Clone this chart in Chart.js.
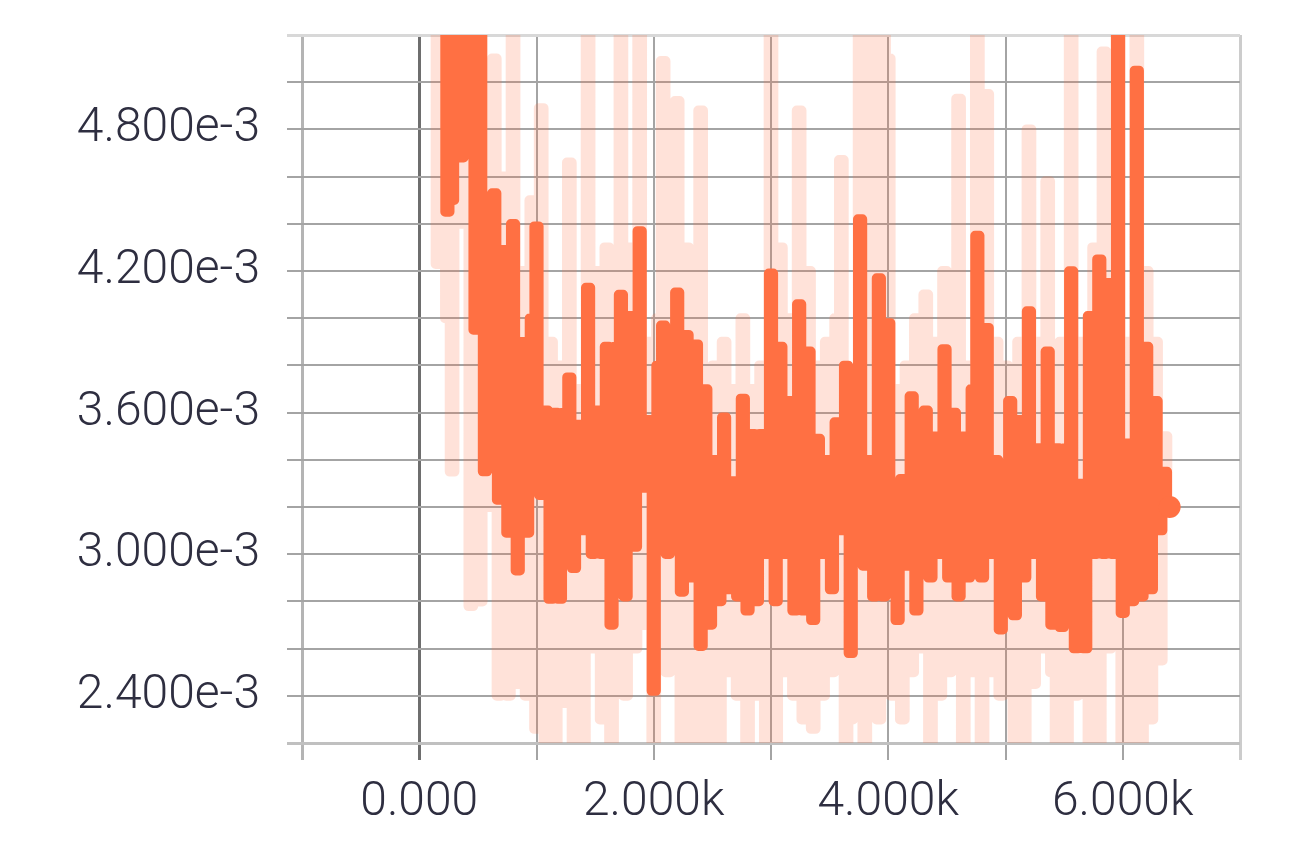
<!DOCTYPE html>
<html>
<head>
<meta charset="utf-8">
<script src="https://cdn.jsdelivr.net/npm/chart.js@4.4.1/dist/chart.umd.min.js"></script>
<style>
  body { margin: 0; background: #fff; }
  canvas { display: block; }
</style>
</head>
<body>
<canvas id="myChart" width="1308" height="848"></canvas>
<script>
// training steps
var steps = [
  120,160,200,240,280,320,360,400,440,480,
  520,560,600,640,680,720,760,800,840,880,
  920,960,1000,1040,1080,1120,1160,1200,1240,1280,
  1320,1360,1400,1440,1480,1520,1560,1600,1640,1680,
  1720,1760,1800,1840,1880,1920,1960,2000,2040,2080,
  2120,2160,2200,2240,2280,2320,2360,2400,2440,2480,
  2520,2560,2600,2640,2680,2720,2760,2800,2840,2880,
  2920,2960,3000,3040,3080,3120,3160,3200,3240,3280,
  3320,3360,3400,3440,3480,3520,3560,3600,3640,3680,
  3720,3760,3800,3840,3880,3920,3960,4000,4040,4080,
  4120,4160,4200,4240,4280,4320,4360,4400,4440,4480,
  4520,4560,4600,4640,4680,4720,4760,4800,4840,4880,
  4920,4960,5000,5040,5080,5120,5160,5200,5240,5280,
  5320,5360,5400,5440,5480,5520,5560,5600,5640,5680,
  5720,5760,5800,5840,5880,5920,5960,6000,6040,6080,
  6120,6160,6200,6240,6280,6320,6360,6400
]

// smoothed loss, in units of 1e-3
var smoothedMilli = [null, null,
  5.5, 4.45, 4.5, 5.5, 4.68, 5.5, 5.5, 3.95, 5.3, 3.35,
  4.0, 4.53, 3.23, 4.29, 3.09, 4.4, 2.93, 3.9, 3.09, 4.0,
  4.39, 3.25, 3.61, 2.81, 3.6, 2.81, 3.6, 3.75, 2.94, 3.55,
  3.1, 4.13, 3.0, 3.61, 3.0, 3.88, 2.7, 3.88, 4.1, 2.82,
  4.01, 3.03, 4.37, 3.28, 3.57, 2.42, 3.8, 3.97, 3.0, 3.85,
  4.11, 2.84, 3.93, 2.9, 3.89, 2.61, 3.7, 2.7, 3.4, 2.8,
  3.58, 2.85, 3.31, 2.82, 3.66, 2.76, 3.51, 2.8, 3.51, 3.0,
  4.19, 2.8, 3.88, 3.0, 3.65, 2.76, 4.06, 2.76, 3.86, 2.72,
  3.49, 3.0, 3.4, 2.85, 3.56, 3.1, 3.8, 2.58, 3.41, 4.42,
  2.95, 3.4, 2.82, 4.17, 2.82, 3.98, 3.3, 2.72, 3.32, 2.95,
  3.67, 2.76, 3.55, 3.61, 2.9, 3.5, 3.0, 3.87, 2.9, 3.6,
  2.82, 3.5, 2.9, 3.7, 4.35, 2.9, 3.96, 3.0, 3.4, 2.68,
  3.3, 3.65, 2.74, 3.57, 2.9, 4.03, 3.0, 3.45, 2.82, 3.86,
  2.7, 3.45, 2.69, 3.45, 4.2, 2.6, 3.3, 2.6, 4.01, 3.0,
  4.25, 3.0, 4.15, 3.0, 5.5, 2.75, 3.47, 2.8, 5.05, 2.82,
  3.88, 2.85, 3.65, 3.1, 3.35, 3.2
]

// raw loss, in units of 1e-3
var rawMilli = [5.5, 4.23,
  5.5, 4.0, 3.35, 5.5, 4.4, 5.5, 2.78, 5.0, 2.8, 4.4,
  3.2, 5.1, 2.4, 4.6, 2.4, 5.5, 2.45, 4.2, 2.4, 4.5,
  2.26, 4.89, 2.1, 3.9, 2.1, 3.8, 2.37, 4.66, 2.1, 3.7,
  2.15, 5.5, 2.6, 4.2, 2.3, 4.3, 2.1, 3.8, 5.5, 2.4,
  4.3, 2.6, 5.5, 2.7, 3.9, 2.1, 4.0, 5.09, 2.5, 4.2,
  4.92, 2.1, 4.3, 2.1, 3.9, 4.88, 2.2, 2.33, 3.8, 2.2,
  3.9, 2.5, 3.7, 2.4, 4.0, 2.1, 3.7, 2.4, 3.8, 2.1,
  5.5, 2.15, 4.3, 2.5, 4.0, 2.4, 4.88, 2.3, 4.2, 2.26,
  3.8, 2.4, 3.9, 2.5, 4.0, 4.67, 2.1, 2.3, 3.6, 5.5,
  2.1, 3.8, 5.5, 2.3, 5.5, 5.1, 2.4, 3.7, 2.3, 3.8,
  2.5, 4.0, 2.6, 4.1, 2.1, 3.9, 2.4, 4.2, 2.5, 3.9,
  4.93, 2.2, 3.8, 2.5, 5.5, 2.2, 4.95, 2.5, 3.9, 2.4,
  3.8, 2.6, 2.1, 3.9, 2.2, 4.8, 2.45, 3.9, 2.6, 4.58,
  2.5, 2.1, 3.9, 2.1, 5.5, 2.4, 3.9, 2.6, 2.1, 4.3,
  2.1, 5.13, 2.6, 4.3, 5.5, 2.1, 3.9, 2.1, 5.5, 2.1,
  4.2, 2.3, 3.9, 2.55, 3.5, 3.2
]

function toPoints(vals) {
  var pts = []
  for (var i = 0; i < steps.length; i++) {
    pts.push({ x: steps[i], y: vals[i] === null ? null : vals[i] / 1000 })
  }
  return pts
}

var lastIdx = steps.length - 1

function xGridColor(c) {
  var v = c.tick ? c.tick.value : null
  if (v === 0) return '#6e6e6e'
  if (v === -1000) return '#b4b4b4'
  if (v === 7000) return '#cccccc'
  return '#a4a4a4'
}
function xGridWidth(c) {
  var v = c.tick ? c.tick.value : null
  if (v === 0 || v === -1000 || v === 7000) return 3
  return 2
}
function yGridColor(c) {
  var n = c.tick ? Math.round(c.tick.value * 1e4) : 0
  if (n === 52) return '#d8d8d8'
  if (n === 22) return '#c0c0c0'
  return '#a4a4a4'
}
function yGridWidth(c) {
  var n = c.tick ? Math.round(c.tick.value * 1e4) : 0
  if (n === 52 || n === 22) return 3
  return 2
}

var ctx = document.getElementById('myChart')
var myLineChart = new Chart(ctx, {
  type: 'line',
  data: {
    datasets: [
      {
        label: 'smoothed',
        data: toPoints(smoothedMilli),
        borderColor: '#ff7043',
        backgroundColor: '#ff7043',
        borderWidth: 9.5,
        borderCapStyle: 'round',
        borderJoinStyle: 'round',
        stepped: 'middle',
        fill: false,
        clip: 0,
        pointRadius: function(c) { return c.dataIndex === lastIdx ? 11 : 0 },
        pointBorderWidth: 0,
        pointHoverRadius: 0
      },
      {
        label: 'raw',
        data: toPoints(rawMilli),
        borderColor: 'rgba(255,112,67,0.2)',
        borderWidth: 10,
        borderCapStyle: 'round',
        borderJoinStyle: 'round',
        stepped: 'middle',
        fill: false,
        clip: 0,
        pointRadius: 0,
        pointHoverRadius: 0
      }
    ]
  },
  options: {
    responsive: false,
    animation: false,
    devicePixelRatio: 1,
    layout: { padding: { top: 35, right: 68, left: 0, bottom: 0 } },
    plugins: { legend: { display: false }, tooltip: { enabled: false } },
    scales: {
      x: {
        type: 'linear',
        min: -1000,
        max: 7000,
        border: { display: false },
        grid: { color: xGridColor, lineWidth: xGridWidth, tickLength: 17 },
        ticks: {
          stepSize: 1000,
          autoSkip: false,
          maxRotation: 0,
          padding: 14,
          color: '#2e2e40',
          font: { family: 'Roboto', size: 48, weight: '300' },
          callback: function(v) {
            if (v === 0) return '0.000'
            if (v > 0 && v < 7000 && v % 2000 === 0) return (v / 1000).toFixed(3) + 'k'
            return ''
          }
        },
        afterFit: function(s) {
          s.height = 105
          s.paddingLeft = 0
          s.paddingRight = 0
        }
      },
      y: {
        min: 0.0022,
        max: 0.0052,
        border: { display: false },
        grid: { color: yGridColor, lineWidth: yGridWidth, tickLength: 15 },
        ticks: {
          stepSize: 0.0002,
          autoSkip: false,
          padding: 27,
          color: '#2e2e40',
          font: { family: 'Roboto', size: 48, weight: '300' },
          callback: function(v) {
            var n = Math.round(v * 1e4)
            if (n % 6 !== 0) return ''
            return v.toExponential(3)
          }
        },
        afterFit: function(s) {
          s.width = 302
          s.paddingTop = 0
          s.paddingBottom = 0
        }
      }
    }
  }
})
</script>
</body>
</html>
